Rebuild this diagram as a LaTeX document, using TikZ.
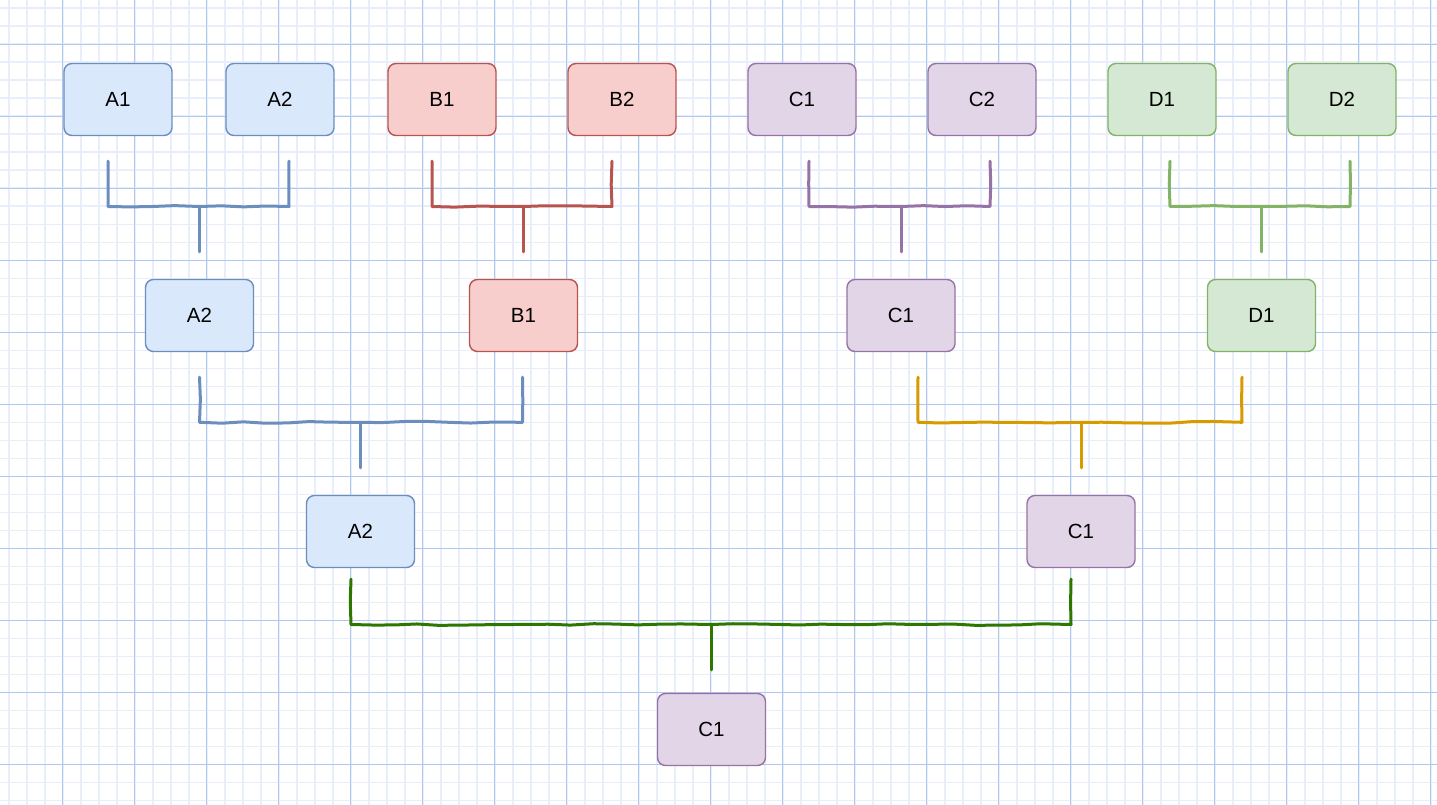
\documentclass[tikz,border=0pt]{standalone}
\usepackage{fontspec}
\setmainfont{Liberation Sans}
\usetikzlibrary{calc,decorations.pathmorphing}
\definecolor{gmajor}{HTML}{AFC8EE}
\definecolor{gminor}{HTML}{E9EFFA}
\definecolor{bstroke}{HTML}{6C8EBF}\definecolor{bfill}{HTML}{DAE8FC}
\definecolor{rstroke}{HTML}{B85450}\definecolor{rfill}{HTML}{F8CECC}
\definecolor{pstroke}{HTML}{9673A6}\definecolor{pfill}{HTML}{E1D5E7}
\definecolor{gstroke}{HTML}{82B366}\definecolor{gfill}{HTML}{D5E8D4}
\definecolor{ostroke}{HTML}{D79B00}
\definecolor{dgstroke}{HTML}{2D7600}
\tikzset{
  box/.style={rectangle, rounded corners=8pt, minimum width=108pt, minimum height=72pt,
    line width=1.4pt, font=\fontsize{20.5}{23}\selectfont, inner sep=0pt},
  bluebox/.style={box, draw=bstroke, fill=bfill},
  redbox/.style={box, draw=rstroke, fill=rfill},
  purplebox/.style={box, draw=pstroke, fill=pfill},
  greenbox/.style={box, draw=gstroke, fill=gfill},
  bracket/.style={line width=3pt, line join=round, line cap=round,
    decorate, decoration={random steps, segment length=22pt, amplitude=0.9pt}},
  stem/.style={line width=3pt, line cap=round},
}
\begin{document}
\pgfmathsetseed{7}
\begin{tikzpicture}[x=1pt,y=-1pt]
\useasboundingbox (0,0) rectangle (1437,805);
\fill[white] (0,0) rectangle (1437,805);
% grid
\foreach \k in {0,...,81} {
  \pgfmathsetmacro{\gx}{-9.3+18*\k}
  \draw[gminor, line width=1.6pt] (\gx,0) -- (\gx,805);
}
\foreach \k in {0,...,46} {
  \pgfmathsetmacro{\gy}{-9.7+18*\k}
  \draw[gminor, line width=1.6pt] (0,\gy) -- (1437,\gy);
}
\foreach \k in {0,...,19} {
  \pgfmathsetmacro{\gx}{62.7+72*\k}
  \draw[gmajor, line width=1pt] (\gx,0) -- (\gx,805);
}
\foreach \k in {0,...,11} {
  \pgfmathsetmacro{\gy}{44.3+72*\k}
  \draw[gmajor, line width=1pt] (0,\gy) -- (1437,\gy);
}
% row 1
\node[bluebox] (a1) at (118,99.5) {A1};
\node[bluebox] (a2) at (280,99.5) {A2};
\node[redbox] (b1) at (442,99.5) {B1};
\node[redbox] (b2) at (622,99.5) {B2};
\node[purplebox] (c1) at (802,99.5) {C1};
\node[purplebox] (c2) at (982,99.5) {C2};
\node[greenbox] (d1) at (1162,99.5) {D1};
\node[greenbox] (d2) at (1342,99.5) {D2};
% row 2
\node[bluebox] (m1) at (199.5,315.5) {A2};
\node[redbox] (m2) at (523.5,315.5) {B1};
\node[purplebox] (m3) at (901,315.5) {C1};
\node[greenbox] (m4) at (1261.5,315.5) {D1};
% row 3
\node[bluebox] (s1) at (360.5,531.5) {A2};
\node[purplebox] (s2) at (1081,531.5) {C1};
% row 4
\node[purplebox] (f) at (711.5,729.5) {C1};
% bracket coordinates row 1
\coordinate (a1t) at ($(a1.south)+(-10,25)$);
\coordinate (a2t) at ($(a2.south)+(9,25)$);
\coordinate (am) at (m1.north |- 0,206.5);
\coordinate (ab) at ($(m1.north)+(0,-27)$);
\coordinate (b1t) at ($(b1.south)+(-10,25)$);
\coordinate (b2t) at ($(b2.south)+(-10,25)$);
\coordinate (bm) at (m2.north |- 0,206.5);
\coordinate (bb) at ($(m2.north)+(0,-27)$);
\coordinate (c1t) at ($(c1.south)+(7,25)$);
\coordinate (c2t) at ($(c2.south)+(8,25)$);
\coordinate (cm) at (m3.north |- 0,206.5);
\coordinate (cb) at ($(m3.north)+(0,-27)$);
\coordinate (d1t) at ($(d1.south)+(8,25)$);
\coordinate (d2t) at ($(d2.south)+(8,25)$);
\coordinate (dm) at (m4.north |- 0,206.5);
\coordinate (db) at ($(m4.north)+(0,-27)$);
% row 2
\coordinate (m1t) at ($(m1.south)+(0,25)$);
\coordinate (m2t) at ($(m2.south)+(-1,25)$);
\coordinate (mlm) at (s1.north |- 0,422.3);
\coordinate (mlb) at ($(s1.north)+(0,-27)$);
\coordinate (m3t) at ($(m3.south)+(17,25)$);
\coordinate (m4t) at ($(m4.south)+(-19.5,25)$);
\coordinate (mrm) at (s2.north |- 0,422.3);
\coordinate (mrb) at ($(s2.north)+(0,-27)$);
% row 3
\coordinate (s1t) at ($(s1.south)+(-9.5,11)$);
\coordinate (s2t) at ($(s2.south)+(-10,11)$);
\coordinate (fm) at (f.north |- 0,624.5);
\coordinate (fb) at ($(f.north)+(0,-23)$);
% brackets
\draw[bracket, bstroke] (a1t) |- (am) -| (a2t);
\draw[stem, bstroke] (am) -- (ab);
\draw[bracket, rstroke] (b1t) |- (bm) -| (b2t);
\draw[stem, rstroke] (bm) -- (bb);
\draw[bracket, pstroke] (c1t) |- (cm) -| (c2t);
\draw[stem, pstroke] (cm) -- (cb);
\draw[bracket, gstroke] (d1t) |- (dm) -| (d2t);
\draw[stem, gstroke] (dm) -- (db);
\draw[bracket, bstroke] (m1t) |- (mlm) -| (m2t);
\draw[stem, bstroke] (mlm) -- (mlb);
\draw[bracket, ostroke] (m3t) |- (mrm) -| (m4t);
\draw[stem, ostroke] (mrm) -- (mrb);
\draw[bracket, dgstroke] (s1t) |- (fm) -| (s2t);
\draw[stem, dgstroke] (fm) -- (fb);
\end{tikzpicture}
\end{document}
